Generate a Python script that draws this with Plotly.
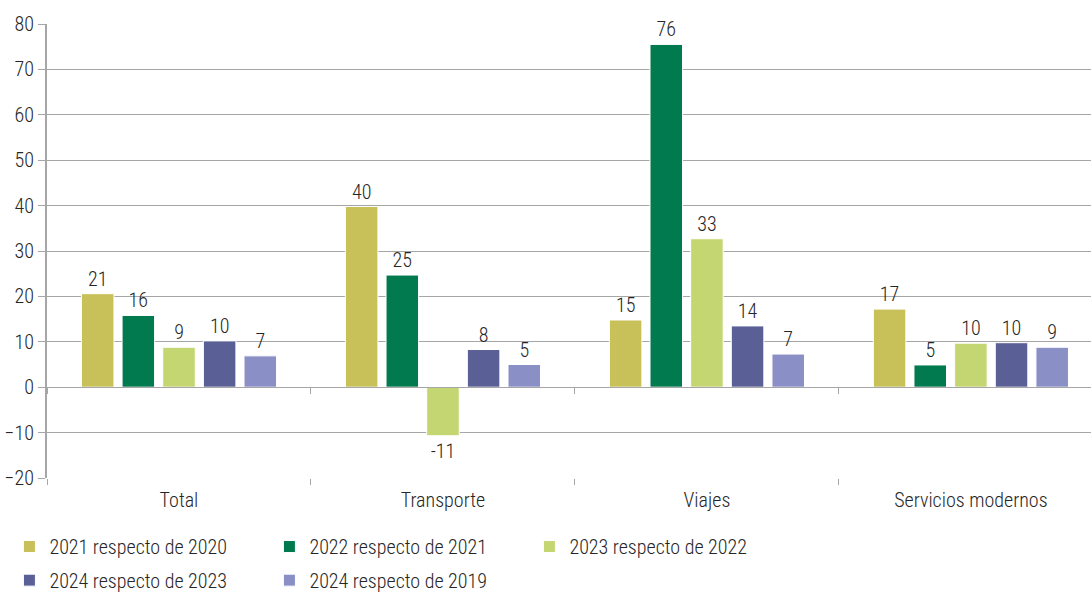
import plotly.graph_objects as go

# ── Data ──
CATEGORIES = ["Total", "Transporte", "Viajes", "Servicios modernos"]

SERIES = [
    "2021 respecto de 2020",
    "2022 respecto de 2021",
    "2023 respecto de 2022",
    "2024 respecto de 2023",
    "2024 respecto de 2019",
]

V_2021_2020 = [20.6, 39.8, 14.8, 17.2]
V_2022_2021 = [15.8, 24.7, 75.5, 4.9]
V_2023_2022 = [8.8, -10.7, 32.7, 9.7]
V_2024_2023 = [10.2, 8.3, 13.5, 9.8]
V_2024_2019 = [6.9, 5.0, 7.3, 8.8]

VALUES = [V_2021_2020, V_2022_2021, V_2023_2022, V_2024_2023, V_2024_2019]

COLORS = ["#C8C15A", "#007A4E", "#C4D672", "#5A6096", "#8A8FC6"]
# first three entries in the top legend row, the rest in the second
LEGEND_ROW = ["legend", "legend", "legend", "legend2", "legend2"]

FONT = "Roboto Condensed, Liberation Sans Narrow, DejaVu Sans Condensed, sans-serif"
FS = 20
GRID = "#A6A6A6"
TEXT = "#262626"
XRANGE = [-0.5, 3.455]

fig = go.Figure()
for name, vals, col, leg in zip(SERIES, VALUES, COLORS, LEGEND_ROW):
    fig.add_trace(go.Bar(
        x=CATEGORIES, y=vals, name=name, legend=leg,
        marker=dict(color=col, line=dict(color="white", width=1)),
        text=[f"{round(v):d}" for v in vals],
        textposition="outside",
        textfont=dict(size=FS, color=TEXT, weight=300),
        cliponaxis=False,
    ))

# invisible trace so the axis drawn through zero gets its boundary ticks
fig.add_trace(go.Scatter(x=CATEGORIES, y=[0] * 4, xaxis="x2", mode="markers",
                         marker=dict(opacity=0), showlegend=False, hoverinfo="skip"))

legend_style = dict(
    orientation="h", x=-0.036, xanchor="left", yanchor="top",
    entrywidth=215, entrywidthmode="pixels",
    font=dict(size=FS, color=TEXT, weight=300), itemwidth=30,
    traceorder="normal", bgcolor="rgba(0,0,0,0)",
)

fig.update_layout(
    width=1091, height=593,
    plot_bgcolor="white", paper_bgcolor="white",
    font=dict(family=FONT, size=FS, color=TEXT, weight=300),
    margin=dict(l=47, r=0, t=24, b=115, autoexpand=False),
    barmode="group", bargap=0.23, bargroupgap=0.2,
    showlegend=True,
    legend=dict(legend_style, y=-0.108),
    legend2=dict(legend_style, y=-0.182),
    xaxis=dict(
        range=XRANGE, ticks="outside", tickson="boundaries", ticklen=6,
        tickcolor=GRID, showline=False, showgrid=False, ticklabelstandoff=8,
        tickfont=dict(size=FS, color=TEXT, weight=300),
    ),
    xaxis2=dict(
        overlaying="x", anchor="free", position=0.2,
        range=XRANGE, type="category", categoryarray=CATEGORIES,
        showticklabels=False, ticks="outside", tickson="boundaries",
        ticklen=6, tickcolor=GRID, showline=True, linecolor=GRID,
        showgrid=False, zeroline=False,
    ),
    yaxis=dict(
        range=[-20, 80], dtick=10, showgrid=True, gridcolor=GRID, gridwidth=1,
        zeroline=False, showline=True, linecolor=GRID, linewidth=2,
        ticks="outside", ticklen=7, tickcolor=GRID,
        tickfont=dict(size=FS, color=TEXT, weight=300),
    ),
)

fig.write_html("out.html", config={"displayModeBar": False},
               post_script="document.body.style.margin='0';")
